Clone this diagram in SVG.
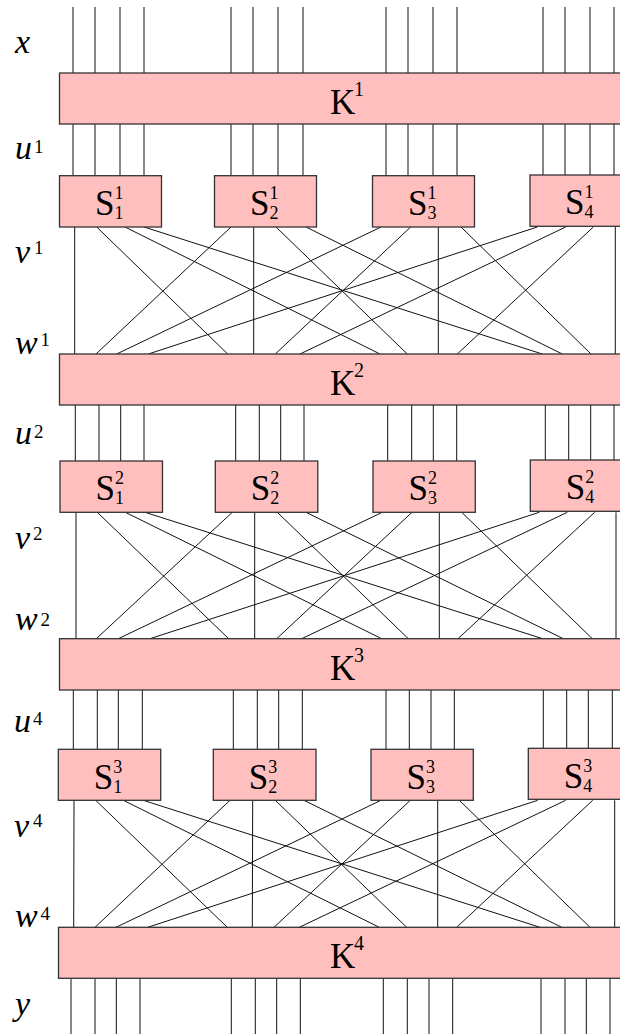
<svg xmlns="http://www.w3.org/2000/svg" width="620" height="1034" viewBox="0 0 620 1034">
<style>
.box{fill:#ffbfbf;stroke:#333;stroke-width:1.3}
.wire{fill:none;stroke:#111;stroke-width:1}
.lab{font-family:"Liberation Serif","Times New Roman",serif;font-style:italic;font-size:34px;fill:#000}
.lsup{font-style:normal;font-size:19px}
.big{font-family:"Liberation Serif","Times New Roman",serif;font-size:35px;fill:#000}
.sm{font-size:18px}
.ks{font-size:20px}
</style>
<rect width="620" height="1034" fill="#fff"/>
<g id="connectors" class="wire">
<path d="M73 7V73M95 7V73M120 7V73M144 7V73M231 7V73M253 7V73M278 7V73M303 7V73M386 7V73M408 7V73M433 7V73M457 7V73M543 7V73M565 7V73M590 7V73M614 7V73"/>
<path d="M73 124V176M95 124V176M120 124V176M144 124V176M231 124V176M253 124V176M278 124V176M303 124V176M386 124V176M408 124V176M433 124V176M457 124V176M543 124V176M565 124V176M590 124V176M614 124V176"/>
<path d="M74.7 227L74.7 354M96.7 227L227.7 354M125 227L380 354M144 227L542.3 354M231 227L96 354M253.7 227L253.7 354M276 227L407.3 354M306 227L562.3 354M381 227L116.7 354M410.7 227L275.3 354M438.3 227L438.3 354M461 227L591 354M537.3 227L148.3 354M565.7 227L300 354M593.3 227L457.3 354M615.3 227L615.3 354"/>
<path d="M75.3 405V461M99 405V461M120.7 405V461M144 405V461M235.7 405V461M259.3 405V461M280.7 405V461M304 405V461M387.7 405V461M411.7 405V461M433.3 405V461M456.7 405V461M545.3 405V461M568.7 405V461M590.7 405V461M614 405V461"/>
<path d="M76 512.3L76 638.7M97.3 512.3L228.7 638.7M125.3 512.3L381.7 638.7M145 512.3L542.7 638.7M232.3 512.3L96.3 638.7M254.7 512.3L254.7 638.7M277.3 512.3L408.3 638.7M306 512.3L563.3 638.7M382.3 512.3L118.3 638.7M412 512.3L276.7 638.7M439.3 512.3L439.3 638.7M461.7 512.3L592.3 638.7M539.3 512.3L150 638.7M567.3 512.3L301.7 638.7M594.7 512.3L458 638.7M616 512.3L616 638.7"/>
<path d="M73.3 690V749.3M97.3 690V749.3M118.3 690V749.3M142.3 690V749.3M233.3 690V749.3M257.3 690V749.3M278.7 690V749.3M302.3 690V749.3M386 690V749.3M409.3 690V749.3M431 690V749.3M454.3 690V749.3M543.3 690V749.3M566.7 690V749.3M588.3 690V749.3M612.3 690V749.3"/>
<path d="M74 800.3L73.7 927.3M95.7 800.3L227.3 927.3M123.3 800.3L379.3 927.3M143.3 800.3L540 927.3M230 800.3L95 927.3M252.7 800.3L252.3 927.3M275.3 800.3L406.7 927.3M304 800.3L561.7 927.3M381 800.3L116 927.3M410.3 800.3L274 927.3M437.7 800.3L437.7 927.3M459.3 800.3L590 927.3M537.7 800.3L147.7 927.3M565.7 800.3L299.3 927.3M592.7 800.3L456.7 927.3M614.7 800.3L614.7 927.3"/>
<path d="M71 978.3V1034M95 978.3V1034M116.3 978.3V1034M140 978.3V1034M231.3 978.3V1034M255.3 978.3V1034M276.7 978.3V1034M300.3 978.3V1034M383.3 978.3V1034M407.3 978.3V1034M429 978.3V1034M452.7 978.3V1034M541 978.3V1034M565 978.3V1034M586.3 978.3V1034M610 978.3V1034"/>
</g>
<g id="K1"><rect class="box" x="59.5" y="73" width="600" height="51"/><text class="big" x="330" y="114.3">K<tspan class="ks" x="354" y="96">1</tspan></text></g>
<g id="K2"><rect class="box" x="59.5" y="354" width="600" height="51"/><text class="big" x="330" y="395.3">K<tspan class="ks" x="354" y="377">2</tspan></text></g>
<g id="K3"><rect class="box" x="59.5" y="638.7" width="600" height="51.3"/><text class="big" x="330" y="680">K<tspan class="ks" x="354" y="661.7">3</tspan></text></g>
<g id="K4"><rect class="box" x="58.5" y="927.3" width="600" height="51"/><text class="big" x="330" y="968.3">K<tspan class="ks" x="354" y="950.3">4</tspan></text></g>
<g id="S1_1"><rect class="box" x="59.5" y="175.7" width="102" height="51.3"/><text class="big" x="95" y="214.5">S<tspan class="sm" x="114.5" y="199">1</tspan><tspan class="sm" x="114.5" y="219">1</tspan></text></g>
<g id="S1_2"><rect class="box" x="214.5" y="175.7" width="102" height="51.3"/><text class="big" x="250" y="214.5">S<tspan class="sm" x="269.5" y="199">1</tspan><tspan class="sm" x="269.5" y="219">2</tspan></text></g>
<g id="S1_3"><rect class="box" x="372.5" y="175.7" width="102" height="51.3"/><text class="big" x="408" y="214.5">S<tspan class="sm" x="427.5" y="199">1</tspan><tspan class="sm" x="427.5" y="219">3</tspan></text></g>
<g id="S1_4"><rect class="box" x="530" y="175" width="102" height="51.3"/><text class="big" x="565" y="213.8">S<tspan class="sm" x="584.5" y="198.3">1</tspan><tspan class="sm" x="584.5" y="218.3">4</tspan></text></g>
<g id="S2_1"><rect class="box" x="60" y="461" width="102.5" height="51.3"/><text class="big" x="95.5" y="499.8">S<tspan class="sm" x="115" y="484.3">2</tspan><tspan class="sm" x="115" y="504.3">1</tspan></text></g>
<g id="S2_2"><rect class="box" x="215.3" y="461" width="102.5" height="51.3"/><text class="big" x="250.8" y="499.8">S<tspan class="sm" x="270.3" y="484.3">2</tspan><tspan class="sm" x="270.3" y="504.3">2</tspan></text></g>
<g id="S2_3"><rect class="box" x="373" y="461" width="102.3" height="51.3"/><text class="big" x="408.5" y="499.8">S<tspan class="sm" x="428" y="484.3">2</tspan><tspan class="sm" x="428" y="504.3">3</tspan></text></g>
<g id="S2_4"><rect class="box" x="530.3" y="460" width="102" height="51.3"/><text class="big" x="565.8" y="498.8">S<tspan class="sm" x="585.3" y="483.3">2</tspan><tspan class="sm" x="585.3" y="503.3">4</tspan></text></g>
<g id="S3_1"><rect class="box" x="58.3" y="749.3" width="102.4" height="51"/><text class="big" x="93.8" y="788.8">S<tspan class="sm" x="113.3" y="773.3">3</tspan><tspan class="sm" x="113.3" y="793.3">1</tspan></text></g>
<g id="S3_2"><rect class="box" x="213.3" y="749.3" width="102.7" height="51"/><text class="big" x="248.8" y="788.8">S<tspan class="sm" x="268.3" y="773.3">3</tspan><tspan class="sm" x="268.3" y="793.3">2</tspan></text></g>
<g id="S3_3"><rect class="box" x="371" y="749.3" width="102.3" height="51"/><text class="big" x="406.5" y="788.8">S<tspan class="sm" x="426" y="773.3">3</tspan><tspan class="sm" x="426" y="793.3">3</tspan></text></g>
<g id="S3_4"><rect class="box" x="528.3" y="748.3" width="102" height="51"/><text class="big" x="563.8" y="787.8">S<tspan class="sm" x="583.3" y="772.3">3</tspan><tspan class="sm" x="583.3" y="792.3">4</tspan></text></g>
<g id="labels">
<text class="lab" x="15" y="52.5">x</text>
<text class="lab" x="15" y="159">u<tspan class="lsup" x="34" y="153">1</tspan></text>
<text class="lab" x="15" y="263">v<tspan class="lsup" x="34" y="254">1</tspan></text>
<text class="lab" x="15" y="353.5">w<tspan class="lsup" x="40.5" y="345.5">1</tspan></text>
<text class="lab" x="15" y="443.5">u<tspan class="lsup" x="34" y="437.5">2</tspan></text>
<text class="lab" x="15" y="548.5">v<tspan class="lsup" x="33" y="539.5">2</tspan></text>
<text class="lab" x="15" y="630">w<tspan class="lsup" x="40.5" y="625.5">2</tspan></text>
<text class="lab" x="14" y="731.7">u<tspan class="lsup" x="33" y="724.5">4</tspan></text>
<text class="lab" x="14" y="836.7">v<tspan class="lsup" x="33" y="826.5">4</tspan></text>
<text class="lab" x="15" y="926.7">w<tspan class="lsup" x="40.5" y="919.5">4</tspan></text>
<text class="lab" x="15" y="1014.5">y</text>
</g>
</svg>
